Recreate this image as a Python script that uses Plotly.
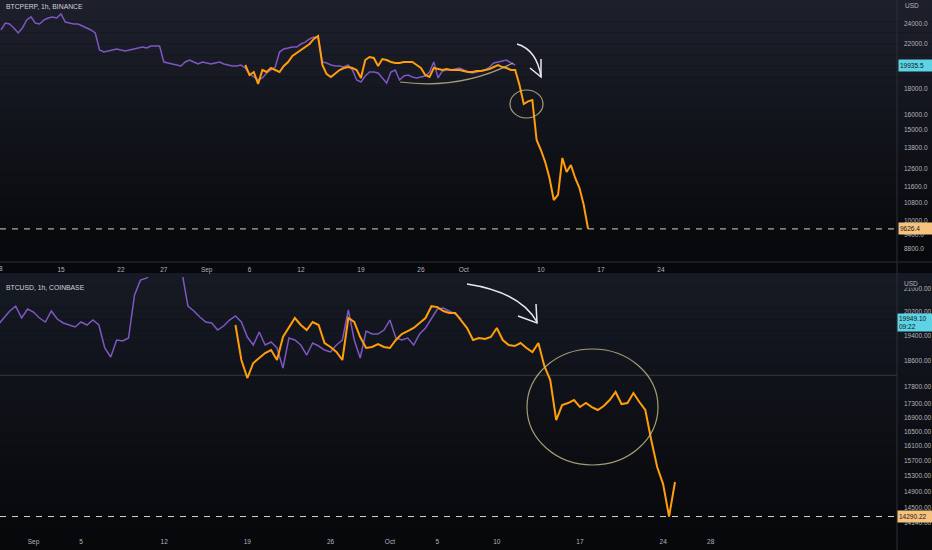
import numpy as np
import pandas as pd
import plotly.graph_objects as go

W, H = 932, 550

# ---------------- data ----------------
top_title = "BTCPERP, 1h, BINANCE"
bot_title = "BTCUSD, 1h, COINBASE"
step = "12h"

top_purple_start = "2022-08-08 00:00"
top_purple = [23370, 24100, 24000, 23580, 23060, 23580, 24430, 24770, 24100, 24000,
              24430, 24650, 24770, 24650, 25100, 24215, 24100, 24000, 24000, 23790,
              23580, 23370, 23060, 21370, 21180, 21280, 21370, 21470, 21370, 21280,
              21370, 21470, 21560, 21660, 21560, 21750, 21750, 21750, 20260, 20170,
              20080, 19990, 19900, 20260, 20440, 20260, 20080, 20260, 20170, 20080,
              20170, 20260, 20080, 19990, 19900, 19900, 19990, 19725, 19200, 18950,
              18700, 18870, 19290, 19550, 19810, 21180, 21470, 21560, 21660, 21660,
              21950, 22140, 22450, 22650, 22550, 20260, 20170, 19990, 19900, 19900,
              19810, 19990, 19550, 18700, 18530, 19030, 19380, 19380, 19290, 18870,
              18450, 19380, 19550, 18700, 19030, 19120, 18950, 18870, 18950, 19030,
              19380, 20260, 18870, 19460, 19550, 19550, 19640, 19725, 19550, 19380,
              19290, 19380, 19460, 19550, 19810, 20170, 20260, 20350, 20440, 20170, 19990]

top_orange_start = "2022-09-05 12:00"
top_orange = [19990, 19120, 19380, 18370, 19550, 19380, 19725, 19550, 19380, 19900,
              20260, 20810, 21090, 21370, 21660, 21950, 22450, 22750, 20000, 19200,
              18950, 19290, 19550, 19725, 19810, 19725, 19550, 18870, 20440, 20720,
              20625, 19900, 20530, 20440, 20260, 20170, 20170, 20260, 20260, 20260,
              19990, 19725, 19120, 18950, 19725, 19640, 19550, 19640, 19550, 19550,
              19550, 19460, 19380, 19380, 19460, 19460, 19550, 19640, 19810, 19990,
              19810, 19725, 19550, 19550, 18290, 16800, 17000, 17100, 14310, 13685,
              12970, 12080, 10950, 11200, 13210, 12410, 12800, 12080, 11550, 10710, 9626.4]

bot_purple_start = "2022-08-29 00:00"
bot_purple = [19760, 19996, 20234, 20400, 19996, 20302, 20200, 19996, 19861, 20234,
              19962, 19828, 19760, 19693, 19861, 19760, 19928, 19760, 19006, 18720,
              19265, 19232, 19330, 20783, 21318, 21390, 21600, 21700, 22100, 22300,
              22200, 21600, 20400, 20234, 20030, 19861, 19828, 19593, 19726, 19928,
              20064, 19861, 19363, 19102, 19527, 19102, 19200, 19006, 18373, 19330,
              19265, 19102, 18782, 19167, 19070, 18942, 18878, 19102, 19265, 20268,
              19265, 18687, 19560, 19461, 19461, 19593, 19928, 19330, 19265, 19330,
              19102, 19461, 19660, 19996, 20302, 20334, 20234, 20132, 19962]

bot_orange_start = "2022-09-18 00:00"
bot_orange = [19760, 18624, 18065, 18530, 18687, 18846, 18942, 18624, 19363, 19660,
              19996, 19760, 19593, 19861, 19760, 19167, 19038, 18878, 18624, 19996,
              19861, 19363, 19006, 19038, 19135, 19038, 19006, 19265, 19461, 19560,
              19660, 19828, 19996, 20400, 20367, 20234, 20166, 20166, 19928, 19660,
              19265, 19330, 19297, 19363, 19660, 19265, 19102, 19070, 19167, 19006,
              18878, 19167, 18436, 18004, 16826, 17258, 17316, 17405, 17200, 17316,
              17200, 17113, 17229, 17405, 17643, 17287, 17316, 17612, 17345, 17113,
              16266, 15538, 15097, 14290.22, 15150]

top_last_purple = 19935.5
top_last_orange = 9626.4
bot_last_purple = 19949.10
bot_last_time = "09:22"
bot_last_orange = 14290.22
bot_hline = 18150

top_yticks = [24000, 22000, 18000, 16000, 15000, 13800, 12600, 11600, 10800, 10000, 9400, 8800]
bot_yticks = [21000, 20200, 19400, 18600, 17800, 17300, 16900, 16500, 16100, 15700, 15300,
              14900, 14500, 14140]
top_xtick_dates = ["2022-08-08", "2022-08-15", "2022-08-22", "2022-08-27", "2022-09-01",
                   "2022-09-06", "2022-09-12", "2022-09-19", "2022-09-26", "2022-10-01",
                   "2022-10-10", "2022-10-17", "2022-10-24"]
top_xtick_text = ["8", "15", "22", "27", "Sep", "6", "12", "19", "26", "Oct", "10", "17", "24"]
bot_xtick_dates = ["2022-09-01", "2022-09-05", "2022-09-12", "2022-09-19", "2022-09-26",
                   "2022-10-01", "2022-10-05", "2022-10-10", "2022-10-17", "2022-10-24",
                   "2022-10-28"]
bot_xtick_text = ["Sep", "5", "12", "19", "26", "Oct", "5", "10", "17", "24", "28"]

top_xrange = ["2022-08-07 21:12", "2022-11-20 13:12"]
bot_xrange = ["2022-08-29 04:19", "2022-11-12 16:30"]
top_yrange = [3.91941, 4.42667]
bot_yrange = [4.14442, 4.33107]

# ---------------- style ----------------
PURPLE = "#7e57c2"
ORANGE = "#ff9d0a"
TXT = "#b2b5be"
LINE = "#2a2e39"
FONT = "Liberation Sans"
FS = 6.5
PLOT_R = 897
TOP_B = 262
BOT_T = 277
BOT_B = 531


def px(x):
    return x / W


def py(y):
    return 1 - y / H


fig = go.Figure()

fig.add_trace(go.Scatter(x=top_xrange, y=[top_last_orange] * 2, mode="lines",
                         line=dict(color="#d8d2c2", width=1, dash="6px,6px"),
                         xaxis="x", yaxis="y", hoverinfo="skip"))
fig.add_trace(go.Scatter(x=pd.date_range(top_purple_start, periods=len(top_purple), freq=step),
                         y=top_purple, mode="lines", line=dict(color=PURPLE, width=1.5),
                         xaxis="x", yaxis="y"))
fig.add_trace(go.Scatter(x=pd.date_range(top_orange_start, periods=len(top_orange), freq=step),
                         y=top_orange, mode="lines", line=dict(color=ORANGE, width=2),
                         xaxis="x", yaxis="y"))

fig.add_trace(go.Scatter(x=bot_xrange, y=[bot_hline] * 2, mode="lines",
                         line=dict(color="#363a45", width=1),
                         xaxis="x2", yaxis="y2", hoverinfo="skip"))
fig.add_trace(go.Scatter(x=bot_xrange, y=[bot_last_orange] * 2, mode="lines",
                         line=dict(color="#d8d2c2", width=1, dash="6px,6px"),
                         xaxis="x2", yaxis="y2", hoverinfo="skip"))
fig.add_trace(go.Scatter(x=pd.date_range(bot_purple_start, periods=len(bot_purple), freq=step),
                         y=bot_purple, mode="lines", line=dict(color=PURPLE, width=1.5),
                         xaxis="x2", yaxis="y2"))
fig.add_trace(go.Scatter(x=pd.date_range(bot_orange_start, periods=len(bot_orange), freq=step),
                         y=bot_orange, mode="lines", line=dict(color=ORANGE, width=2),
                         xaxis="x2", yaxis="y2"))

# ---------------- background gradient ----------------
shapes = []


def grad(y0, y1, c0, c1, n=24):
    c0 = np.array([int(c0[i:i + 2], 16) for i in (1, 3, 5)])
    c1 = np.array([int(c1[i:i + 2], 16) for i in (1, 3, 5)])
    for i in range(n):
        t = i / (n - 1) if n > 1 else 0.0
        c = (c0 * (1 - t) + c1 * t).astype(int)
        ya = y0 + (y1 - y0) * i / n
        yb = y0 + (y1 - y0) * (i + 1) / n
        shapes.append(dict(type="rect", xref="paper", yref="paper", x0=0, x1=1,
                           y0=py(yb), y1=py(ya), line=dict(width=0),
                           fillcolor="rgb(%d,%d,%d)" % tuple(c), layer="below"))


grad(0, 262, "#1d202c", "#07080b")
grad(262, 273, "#07080b", "#060709", n=1)
grad(273, 550, "#161a24", "#07080a")

shapes += [
    dict(type="line", xref="paper", yref="paper", x0=px(PLOT_R), x1=px(PLOT_R), y0=0, y1=1,
         line=dict(color=LINE, width=1)),
    dict(type="line", xref="paper", yref="paper", x0=0, x1=1, y0=py(TOP_B), y1=py(TOP_B),
         line=dict(color=LINE, width=1)),
    # drawings on the chart
    dict(type="path", xref="paper", yref="paper",
         path=f"M {px(400)},{py(82)} Q {px(460)},{py(90)} {px(513)},{py(63)}",
         line=dict(color="rgba(200,192,140,0.8)", width=1.2)),
    dict(type="circle", xref="paper", yref="paper", x0=px(510), x1=px(543), y0=py(118), y1=py(90),
         line=dict(color="rgba(200,192,140,0.8)", width=1.2)),
    dict(type="circle", xref="paper", yref="paper", x0=px(527), x1=px(658), y0=py(465), y1=py(349),
         line=dict(color="rgba(200,192,140,0.8)", width=1.2)),
    dict(type="path", xref="paper", yref="paper",
         path=f"M {px(517)},{py(44)} Q {px(537)},{py(50)} {px(541)},{py(77)}",
         line=dict(color="#e8e8ee", width=1.5)),
    dict(type="path", xref="paper", yref="paper",
         path=f"M {px(541)},{py(59)} L {px(541)},{py(77)} L {px(530)},{py(68)}",
         line=dict(color="#e8e8ee", width=1.5)),
    dict(type="path", xref="paper", yref="paper",
         path=f"M {px(467)},{py(284)} Q {px(520)},{py(292)} {px(537)},{py(322)}",
         line=dict(color="#e8e8ee", width=1.5)),
    dict(type="path", xref="paper", yref="paper",
         path=f"M {px(536)},{py(304)} L {px(537)},{py(323)} L {px(518)},{py(316)}",
         line=dict(color="#e8e8ee", width=1.5)),
]

# ---------------- annotations ----------------
def tfont(color=TXT, size=FS):
    return dict(size=size, color=color, family=FONT)


ann = [
    dict(text=top_title, x=px(4), y=py(7), xref="paper", yref="paper", xanchor="left",
         yanchor="middle", showarrow=False, font=tfont("#d1d4dc", 6.8)),
    dict(text=bot_title, x=px(4), y=py(287), xref="paper", yref="paper", xanchor="left",
         yanchor="middle", showarrow=False, font=tfont("#d1d4dc", 6.8)),
    dict(text="8", x=px(1), y=py(268), xref="paper", yref="paper", xanchor="center",
         yanchor="middle", showarrow=False, font=tfont()),
    dict(text="USD", x=px(903), y=py(6), xref="paper", yref="paper", xanchor="left",
         yanchor="middle", showarrow=False, font=tfont()),
    dict(text="USD", x=px(903), y=py(283), xref="paper", yref="paper", xanchor="left",
         yanchor="middle", showarrow=False, bgcolor="#161a24", borderpad=0, font=tfont()),
    dict(text=f"{top_last_purple:.1f}", x=px(898), y=np.log10(top_last_purple), xref="paper",
         yref="y", xanchor="left", yanchor="middle", showarrow=False, bgcolor="#5dd3e3",
         borderpad=1, width=31, height=9, align="left", font=tfont("#131722")),
    dict(text=f"{top_last_orange:.1f}", x=px(898), y=np.log10(top_last_orange), xref="paper",
         yref="y", xanchor="left", yanchor="middle", showarrow=False, bgcolor="#f6c27e",
         borderpad=1, width=31, height=9, align="left", font=tfont("#131722")),
    dict(text=f"{bot_last_purple:.2f}<br>{bot_last_time}", x=px(897), y=np.log10(bot_last_purple),
         xref="paper", yref="y2", xanchor="left", yanchor="top", yshift=6, showarrow=False,
         bgcolor="#5dd3e3", borderpad=1, width=33, align="left", font=tfont("#131722")),
    dict(text=f"{bot_last_orange:.2f}", x=px(897), y=np.log10(bot_last_orange), xref="paper",
         yref="y2", xanchor="left", yanchor="middle", showarrow=False, bgcolor="#f6c27e",
         borderpad=1, width=33, height=9, align="left", font=tfont("#131722")),
]

axis_common = dict(showgrid=False, zeroline=False, showline=False, ticks="",
                   tickfont=tfont())

fig.update_layout(
    width=W, height=H, autosize=False, showlegend=False,
    margin=dict(l=0, r=0, t=0, b=0),
    paper_bgcolor="#0c0e13", plot_bgcolor="rgba(0,0,0,0)",
    xaxis=dict(domain=[0, px(PLOT_R)], anchor="y", type="date", range=top_xrange,
               tickvals=top_xtick_dates, ticktext=top_xtick_text, ticklabelstandoff=2, **axis_common),
    yaxis=dict(domain=[py(TOP_B), 1], anchor="x", type="log", side="right", range=top_yrange,
               tickvals=top_yticks, ticktext=[f"{v:.1f}" for v in top_yticks],
               ticklabelstandoff=6, **axis_common),
    xaxis2=dict(domain=[0, px(PLOT_R)], anchor="y2", type="date", range=bot_xrange,
                tickvals=bot_xtick_dates, ticktext=bot_xtick_text, ticklabelstandoff=5, **axis_common),
    yaxis2=dict(domain=[py(BOT_B), py(BOT_T)], anchor="x2", type="log", side="right", range=bot_yrange,
                tickvals=bot_yticks, ticktext=[f"{v:.2f}" for v in bot_yticks],
                ticklabelstandoff=6, **axis_common),
    shapes=shapes,
    annotations=ann,
)

fig.write_html("out.html", config={"displayModeBar": False},
               post_script="document.body.style.margin='0';document.body.style.padding='0';"
                           "document.documentElement.style.background='#0c0e13';")
